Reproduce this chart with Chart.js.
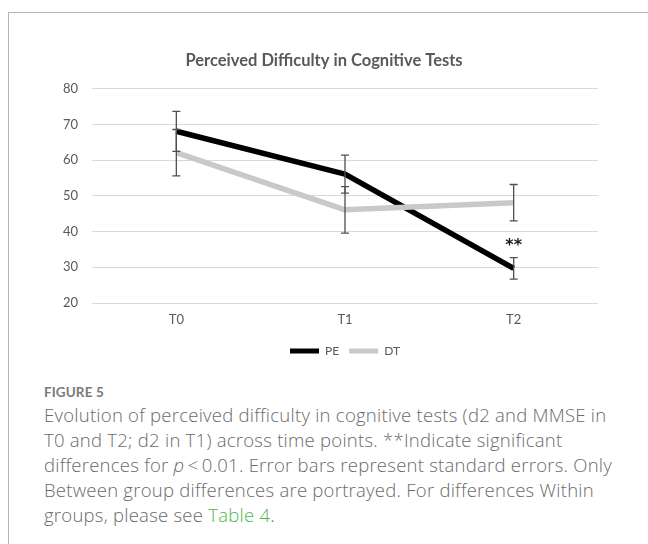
<!DOCTYPE html>
<html>
<head>
<meta charset="utf-8">
<script src="https://cdn.jsdelivr.net/npm/chart.js@4.4.1/dist/chart.umd.min.js"></script>
<style>
  html, body { margin: 0; padding: 0; background: #fff; width: 648px; height: 544px; overflow: hidden; }
  #frame {
    position: absolute; left: 8px; top: 12px; width: 700px; height: 600px;
    border-top: 1px solid #b5b5b5; border-left: 1px solid #b5b5b5;
  }
  #chartBox { position: absolute; left: 0; top: 0; width: 648px; height: 380px; }
  #figLabel {
    position: absolute; left: 44px; top: 385px; line-height: 15px;
    font-family: Lato, "Open Sans", sans-serif; font-weight: 700; font-size: 13.5px;
    color: #7a7a7a; letter-spacing: 0.1px;
  }
  #caption {
    position: absolute; left: 44px; top: 402px; line-height: 25px;
    font-family: "Open Sans", Lato, sans-serif; font-weight: 300; font-size: 18.5px;
    letter-spacing: 0.25px; color: #6a6a6a; white-space: nowrap;
  }
  #caption a { color: #4cb84c; text-decoration: none; }
</style>
</head>
<body>
<div id="frame"></div>
<div id="chartBox"><canvas id="chart"></canvas></div>
<div id="figLabel">FIGURE 5</div>
<div id="caption">Evolution of perceived difficulty in cognitive tests (d2 and MMSE in<br>T0 and T2; d2 in T1) across time points. **Indicate significant<br>differences for <i>p</i>&#8201;&lt;&#8201;0.01. Error bars represent standard errors. Only<br>Between group differences are portrayed. For differences Within<br>groups, please see <a>Table 4</a>.</div>

<script>
// Time points and group means (perceived difficulty) with standard errors
const timePoints = ['T0', 'T1', 'T2'];
const peMeans = [68.1, 56.1, 29.7];
const peErrors = [5.6, 5.3, 3.0];
const dtMeans = [62.1, 46.1, 48.1];
const dtErrors = [6.5, 6.5, 5.1];
// Significance markers for between-group differences, placed at the given value
const sigMarks = ['', '', '**'];
const sigMarkValues = [null, null, 37.0];
const yTicks = [20, 30, 40, 50, 60, 70, 80];

const textGray = '#595959';
const font = 'Lato, "Open Sans", sans-serif';

// Draws vertical error bars with caps for each dataset, then the significance stars
const errorBarPlugin = {
  id: 'errorBars',
  afterDatasetsDraw(chart) {
    const ctx = chart.ctx;
    const y = chart.scales.y;
    const x = chart.scales.x;
    ctx.save();
    ctx.strokeStyle = '#505050';
    ctx.lineWidth = 1.3;
    chart.data.datasets.forEach((ds, di) => {
      const meta = chart.getDatasetMeta(di);
      ds.errors.forEach((e, i) => {
        const px = meta.data[i].x;
        const top = y.getPixelForValue(ds.data[i] + e);
        const bot = y.getPixelForValue(ds.data[i] - e);
        ctx.beginPath();
        ctx.moveTo(px, top); ctx.lineTo(px, bot);
        ctx.moveTo(px - 4, top); ctx.lineTo(px + 4, top);
        ctx.moveTo(px - 4, bot); ctx.lineTo(px + 4, bot);
        ctx.stroke();
      });
    });
    ctx.fillStyle = '#1a1a1a';
    ctx.font = 'bold 16px "DejaVu Sans", sans-serif';
    ctx.textAlign = 'center';
    ctx.textBaseline = 'alphabetic';
    sigMarks.forEach((m, i) => {
      if (!m) return;
      const tm = ctx.measureText(m);
      const cy = y.getPixelForValue(sigMarkValues[i]);
      // centre the glyph ink on the value
      const base = cy + (tm.actualBoundingBoxAscent - tm.actualBoundingBoxDescent) / 2;
      ctx.fillText(m, x.getPixelForValue(i), base);
    });
    ctx.restore();
  }
};

new Chart(document.getElementById('chart'), {
  type: 'line',
  data: {
    labels: timePoints,
    datasets: [
      {
        label: 'PE', data: peMeans, errors: peErrors,
        borderColor: '#000', backgroundColor: '#000', borderWidth: 5.5,
        pointRadius: 0, tension: 0, borderJoinStyle: 'round', order: 1
      },
      {
        label: 'DT', data: dtMeans, errors: dtErrors,
        borderColor: '#c9c9c9', backgroundColor: '#c9c9c9', borderWidth: 5.5,
        pointRadius: 0, tension: 0, borderJoinStyle: 'round', order: 0
      }
    ]
  },
  options: {
    responsive: true,
    maintainAspectRatio: false,
    animation: false,
    layout: { padding: { left: 50, right: 50, top: 40, bottom: 13 } },
    plugins: {
      title: {
        display: true,
        text: 'Perceived Difficulty in Cognitive Tests',
        color: textGray,
        font: { family: font, size: 16.5, weight: 'bold' },
        padding: { top: 11, bottom: 18 }
      },
      legend: {
        position: 'bottom',
        fullSize: false,
        labels: {
          color: textGray, boxWidth: 29, boxHeight: 5, padding: 10,
          font: { family: font, size: 12 },
          sort: (a, b) => a.datasetIndex - b.datasetIndex,
          generateLabels(chart) {
            return Chart.defaults.plugins.legend.labels.generateLabels(chart)
              .map(l => Object.assign(l, { lineWidth: 0 }));
          }
        }
      },
      tooltip: { enabled: false }
    },
    scales: {
      x: {
        offset: true,
        grid: { display: false, drawTicks: false },
        border: { display: false },
        ticks: { color: textGray, padding: 9, font: { family: font, size: 13 } },
        afterFit(s) { s.height = 32; }
      },
      y: {
        min: yTicks[0], max: yTicks[yTicks.length - 1],
        afterBuildTicks(s) { s.ticks = yTicks.map(v => ({ value: v })); },
        grid: { color: '#d9d9d9', lineWidth: 1, drawTicks: false },
        border: { display: false },
        ticks: { color: textGray, padding: 14, font: { family: font, size: 13 } },
        afterFit(s) { s.width = 42; }
      }
    }
  },
  plugins: [errorBarPlugin]
});
</script>
</body>
</html>
